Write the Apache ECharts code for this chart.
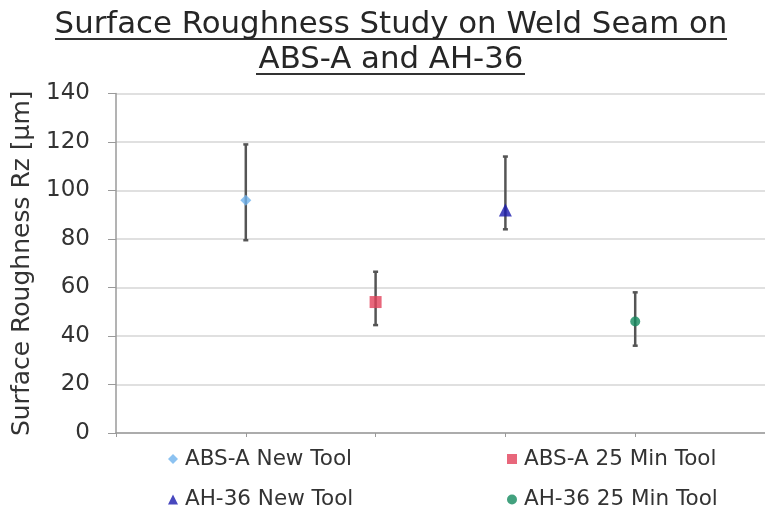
<!DOCTYPE html>
<html>
<head>
<meta charset="utf-8">
<script src="https://cdn.jsdelivr.net/npm/echarts@6/dist/echarts.min.js"></script>
<style>html,body{margin:0;padding:0;background:#fff}#c{width:765px;height:513px}</style>
</head>
<body>
<div id="c"></div>
<script>
const seriesNames = ['ABS-A New Tool', 'ABS-A 25 Min Tool', 'AH-36 New Tool', 'AH-36 25 Min Tool'];
const xPositions = [1, 2, 3, 4];
const meanValues = [96, 54, 92, 46];
const upperValues = [119, 66.5, 114, 58];
const lowerValues = [79.5, 44.5, 84, 36];
const yTicks = [0, 20, 40, 60, 80, 100, 120, 140];

const symbols = ['diamond', 'rect', 'triangle', 'circle'];
const symbolSizes = [11, 12, 13, 10];
const colors = ['#6fb3ee', '#e2415a', '#1a1aae', '#138a5e'];
const FONT = 'DejaVu Sans';

const chart = echarts.init(document.getElementById('c'));

const errData = xPositions.map((x, i) => [x, lowerValues[i], upperValues[i]]);

const series = [{
  type: 'custom',
  name: 'err',
  z: 1,
  data: errData,
  renderItem: function (params, api) {
    const x = api.value(0);
    const lo = api.coord([x, api.value(1)]);
    const hi = api.coord([x, api.value(2)]);
    const cap = 2.5;
    const st = { stroke: '#555555', lineWidth: 2.5 };
    return {
      type: 'group',
      children: [
        { type: 'line', shape: { x1: hi[0], y1: hi[1], x2: lo[0], y2: lo[1] }, style: st },
        { type: 'line', shape: { x1: hi[0] - cap, y1: hi[1], x2: hi[0] + cap, y2: hi[1] }, style: st },
        { type: 'line', shape: { x1: lo[0] - cap, y1: lo[1], x2: lo[0] + cap, y2: lo[1] }, style: st }
      ]
    };
  },
  silent: true
}];

seriesNames.forEach((name, i) => {
  series.push({
    type: 'scatter',
    name: name,
    z: 5,
    symbol: symbols[i],
    symbolSize: symbolSizes[i],
    itemStyle: { color: colors[i] },
    data: [[xPositions[i], meanValues[i]]]
  });
});

const legendText = { fontFamily: FONT, fontSize: 21.5, color: '#333', padding: [0, 0, 0, 2] };

const option = {
  backgroundColor: '#fff',
  animation: false,
  title: {
    text: 'Surface Roughness Study on Weld Seam on\nABS-A and AH-36',
    left: 386,
    textAlign: 'center',
    top: 2.5,
    textStyle: { fontFamily: FONT, fontSize: 30.8, fontWeight: 'normal', color: '#262626', lineHeight: 35 }
  },
  graphic: [
    { type: 'line', shape: { x1: 55, y1: 39, x2: 727, y2: 39 }, style: { stroke: '#333', lineWidth: 1.8 } },
    { type: 'line', shape: { x1: 256, y1: 74, x2: 525, y2: 74 }, style: { stroke: '#333', lineWidth: 1.8 } }
  ],
  grid: { left: 116, right: -2, top: 93.5, bottom: 80 },
  xAxis: {
    type: 'value',
    min: 0, max: 5, interval: 1,
    axisLine: { show: true, lineStyle: { color: '#9a9a9a', width: 1.5 } },
    axisTick: { show: true, length: 4, lineStyle: { color: '#9a9a9a' } },
    axisLabel: { show: false },
    splitLine: { show: false }
  },
  yAxis: {
    type: 'value',
    min: 0, max: 140, interval: 20,
    name: 'Surface Roughness Rz [µm]',
    nameLocation: 'middle',
    nameGap: 79,
    nameTextStyle: { fontFamily: FONT, fontSize: 25, color: '#333' },
    axisLine: { show: true, lineStyle: { color: '#9a9a9a', width: 1.5 } },
    axisTick: { show: true, length: 8, lineStyle: { color: '#9a9a9a' } },
    axisLabel: {
      fontFamily: FONT, fontSize: 23, color: '#333', margin: 26,
      formatter: v => yTicks.includes(v) ? String(v) : ''
    },
    splitLine: { show: true, lineStyle: { color: '#d6d6d6', width: 1.5 } }
  },
  legend: [
    {
      data: [seriesNames[0], seriesNames[2]],
      orient: 'vertical', left: 168, top: 448, itemGap: 18.5, padding: 0,
      itemWidth: 10, itemHeight: 10,
      textStyle: legendText
    },
    {
      data: [seriesNames[1], seriesNames[3]],
      orient: 'vertical', left: 507, top: 448, itemGap: 18.5, padding: 0,
      itemWidth: 10, itemHeight: 10,
      textStyle: legendText
    }
  ],
  series: series
};
chart.setOption(option);
</script>
</body>
</html>
